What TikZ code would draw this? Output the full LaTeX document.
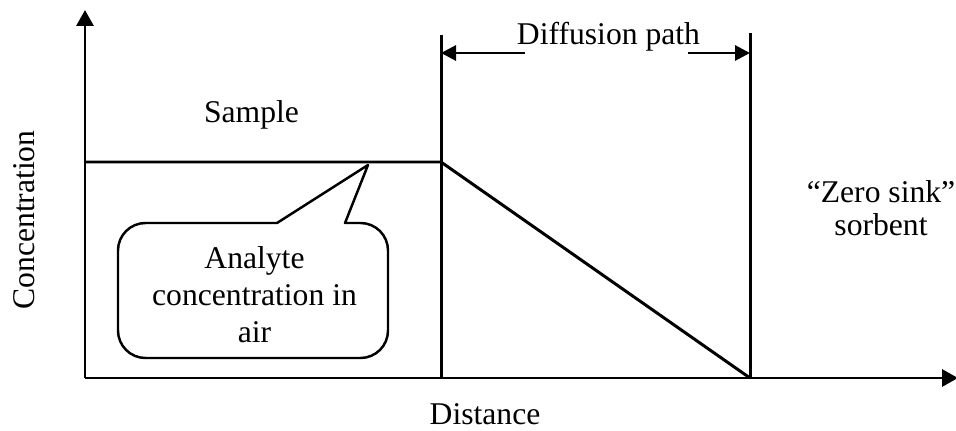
\documentclass[tikz,border=0pt]{standalone}
\usepackage{fontspec}
\setmainfont{Liberation Serif}
\usetikzlibrary{arrows.meta,calc}
\tikzset{
  axisarrow/.style={-{Triangle[length=3.2mm,width=3.4mm]}, line width=1.7pt},
  flowarrow/.style={-{Triangle[length=3mm,width=3mm]}, line width=1.7pt},
  plotline/.style={line width=1.7pt},
  calloutline/.style={line width=1.4pt, line join=round},
  lbl/.style={font=\fontsize{18}{21}\selectfont, inner sep=0pt}
}

\begin{document}
\begin{tikzpicture}
  \useasboundingbox (0,0) rectangle (19.12,8.6);
  % axes
  \coordinate (O) at (1.70,1.04);
  \coordinate (ytop) at (1.70,8.40);
  \coordinate (xend) at (19.16,1.04);
  \draw[axisarrow] (O) -- (ytop);
  \draw[axisarrow] (O) -- (xend);
  % concentration profile and walls
  \coordinate (s0) at (1.70,5.36);
  \coordinate (s1) at (8.82,5.36);
  \coordinate (w1) at (8.82,7.90);
  \coordinate (w2) at (15.00,7.94);
  \coordinate (sink) at (15.00,1.04);
  \draw[plotline] (s0) -- (s1) -- (sink);
  \draw[plotline] (w1) -- (w1 |- O);
  \draw[plotline] (w2) -- (sink);
  % diffusion path
  \coordinate (dl) at (10.50,7.54);
  \coordinate (dr) at (13.76,7.54);
  \draw[flowarrow] (dl) -- (dl -| w1);
  \draw[flowarrow] (dr) -- (dr -| w2);
  \node[lbl, anchor=base] (diff) at (12.17,7.70) {Diffusion path};
  % labels
  \node[lbl, anchor=base] (sample) at (5.03,6.14) {Sample};
  \node[lbl, anchor=base] (xlabel) at (9.70,0.12) {Distance};
  \node[lbl, anchor=base, rotate=90] (ylabel) at (0.68,4.20) {Concentration};
  \node[lbl, anchor=base, align=center, font=\fontsize{18}{18.7}\selectfont] (sorbent) at (17.62,3.90) {``Zero sink''\\sorbent};
  % callout
  \draw[calloutline] (2.36,2.6) -- (2.36,3.59) arc[start angle=180, end angle=90, radius=0.55]
    -- (5.54,4.14) -- (7.36,5.30) -- (6.90,4.14) -- (7.21,4.14)
    arc[start angle=90, end angle=0, radius=0.55] -- (7.76,1.99)
    arc[start angle=0, end angle=-90, radius=0.55] -- (2.91,1.44)
    arc[start angle=270, end angle=180, radius=0.55] -- cycle;
  \node[lbl, anchor=base, align=center] (note) at (5.09,1.76) {Analyte\\concentration in\\air};
\end{tikzpicture}
\end{document}
